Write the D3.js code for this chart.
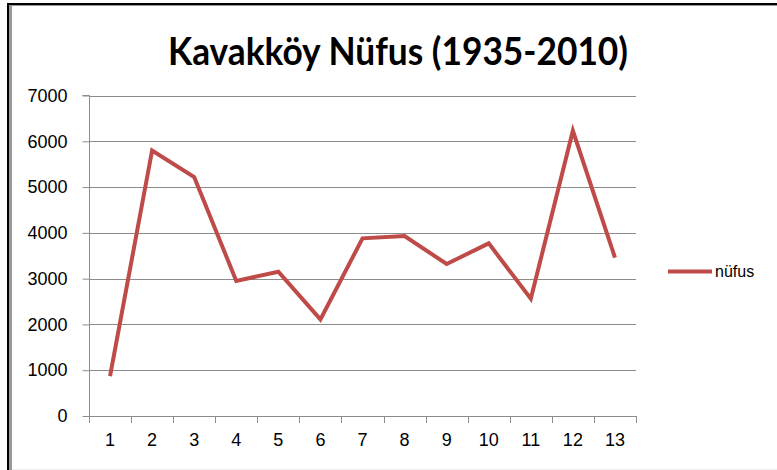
<!DOCTYPE html>
<html><head><meta charset="utf-8">
<script src="https://cdn.jsdelivr.net/npm/d3@7"></script>
<style>body{margin:0;background:#fff}svg{display:block}</style>
</head><body>
<svg id="c" width="777" height="470"></svg>
<script>
const categories = ["1","2","3","4","5","6","7","8","9","10","11","12","13"];
const values = [870, 5800, 5220, 2950, 3150, 2110, 3880, 3930, 3320, 3770, 2560, 6230, 3460];
const yTicks = [0,1000,2000,3000,4000,5000,6000,7000];
const seriesName = "nüfus";
const title = "Kavakköy Nüfus (1935-2010)";

const svg = d3.select("#c");
// frame
svg.append("rect").attr("x",0).attr("y",0).attr("width",777).attr("height",470).attr("fill","#fff");
svg.append("line").attr("x1",8).attr("x2",777).attr("y1",4).attr("y2",4).attr("stroke","#000").attr("stroke-width",2);
svg.append("line").attr("x1",8).attr("x2",8).attr("y1",3).attr("y2",470).attr("stroke","#000").attr("stroke-width",2);
svg.append("line").attr("x1",10.5).attr("x2",10.5).attr("y1",5).attr("y2",470).attr("stroke","#999").attr("stroke-width",3);
svg.append("line").attr("x1",10).attr("x2",777).attr("y1",5.5).attr("y2",5.5).attr("stroke","#999").attr("stroke-width",1);
svg.append("line").attr("x1",12).attr("x2",777).attr("y1",469.5).attr("y2",469.5).attr("stroke","#eee").attr("stroke-width",1);

const L = 89, R = 636, T = 95.5, B = 416;
const x = d3.scaleBand().domain(categories).range([L,R]);
const y = d3.scaleLinear().domain([0,7000]).range([B,T]);

// gridlines
svg.append("g").selectAll("line").data(yTicks.filter(d=>d>0)).join("line")
  .attr("x1",L).attr("x2",R).attr("y1",d=>Math.round(y(d))+0.5).attr("y2",d=>Math.round(y(d))+0.5)
  .attr("stroke","#8c8c8c").attr("stroke-width",1);

// y axis
const ya = svg.append("g").attr("transform",`translate(${L+0.5},0)`)
  .call(d3.axisLeft(y).tickValues(yTicks).tickSize(7).tickPadding(15).tickFormat(d3.format("d")));
ya.select(".domain").attr("stroke","#8c8c8c").attr("d",`M-7,${T}H0V${B}`);
ya.selectAll(".tick line").attr("stroke","#8c8c8c");
ya.selectAll(".tick text").attr("font-family","Liberation Sans, Arial, sans-serif").attr("font-size",18).attr("fill","#000");

// x axis
const xa = svg.append("g").attr("transform",`translate(0,${B+0.5})`)
  .call(d3.axisBottom(x).tickSize(0).tickPadding(17));
xa.select(".domain").attr("stroke","#8c8c8c").attr("d",`M${L},0H${R}`);
xa.selectAll(".tick text").attr("font-family","Liberation Sans, Arial, sans-serif").attr("font-size",18).attr("fill","#000");
const bounds = categories.map(c=>x(c)).concat([R]);
svg.append("g").selectAll("line").data(bounds).join("line")
  .attr("x1",d=>Math.round(d)+0.5).attr("x2",d=>Math.round(d)+0.5).attr("y1",B).attr("y2",B+7)
  .attr("stroke","#8c8c8c");

// line
const line = d3.line().x((d,i)=>x(categories[i])+x.bandwidth()/2).y(d=>y(d));
svg.append("path").datum(values).attr("d",line).attr("fill","none")
  .attr("stroke","#be4b48").attr("stroke-width",4).attr("stroke-linejoin","miter");

// title
svg.append("text").attr("x",398).attr("y",65).attr("text-anchor","middle")
  .attr("font-family","Lato, 'Open Sans', sans-serif").attr("font-weight","bold")
  .attr("font-size",38).attr("textLength",460).attr("lengthAdjust","spacingAndGlyphs").text(title);

// legend
svg.append("line").attr("x1",668).attr("x2",712).attr("y1",271.5).attr("y2",271.5)
  .attr("stroke","#be4b48").attr("stroke-width",4);
svg.append("text").attr("x",715).attr("y",277).attr("font-family","Liberation Sans, Arial, sans-serif")
  .attr("font-size",16).attr("fill","#000").text(seriesName);
</script>
</body></html>
